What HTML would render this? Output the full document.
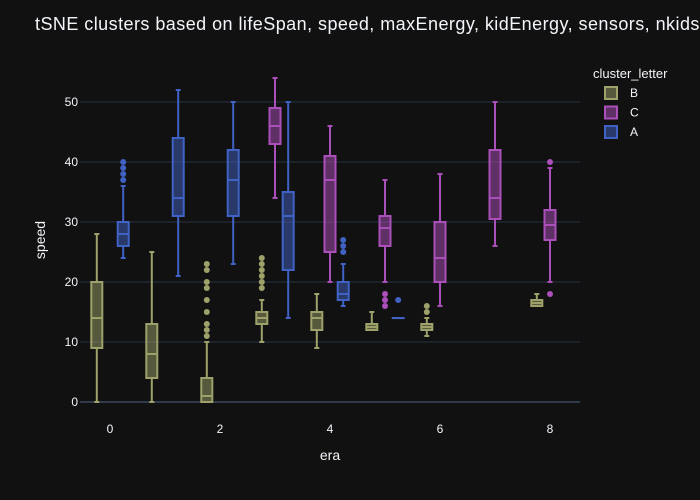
<!DOCTYPE html>
<html><head><meta charset="utf-8"><style>
body{margin:0;background:#111111;overflow:hidden;}
svg{display:block;font-family:"Liberation Sans",sans-serif;}
</style></head><body>
<svg id="chart" width="700" height="500">
<rect width="700" height="500" fill="#111111"/>
<text x="35" y="30" fill="#f2f5fa" font-size="18" letter-spacing="0.45">tSNE clusters based on lifeSpan, speed, maxEnergy, kidEnergy, sensors, nkids</text>
<g id="grid"></g>
<g id="marks"></g>
<g id="axes"></g>
<text x="330" y="460" fill="#f2f5fa" font-size="14" text-anchor="middle">era</text>
<text x="45" y="240" fill="#f2f5fa" font-size="14" text-anchor="middle" transform="rotate(-90 45 240)">speed</text>
<g id="legend">
<text x="593" y="78" fill="#f2f5fa" font-size="13">cluster_letter</text>
</g>
</svg>
<script>
const seriesNames=['B','C','A'];
const seriesStroke={B:'#9ea16a',C:'#ab4fbb',A:'#4062c4'};
const seriesOffset={B:-0.24,C:0,A:0.24};
const yTicks=[0,10,20,30,40,50];
const xTicks=[0,2,4,6,8];
// each box: era, [lowWhisker, q1, median, q3, highWhisker], outliers
const boxesB=[
 {era:0,s:[0,9,14,20,28],o:[]},
 {era:1,s:[0,4,8,13,25],o:[]},
 {era:2,s:[0,0,1,4,10],o:[11,12,13,15,17,19,20,22,23]},
 {era:3,s:[10,13,14,15,17],o:[19,20,21,22,23,24]},
 {era:4,s:[9,12,14,15,18],o:[]},
 {era:5,s:[12,12,12.5,13,15],o:[]},
 {era:6,s:[11,12,12.5,13,14],o:[15,16]},
 {era:8,s:[16,16,16.5,17,18],o:[]}
];
const boxesC=[
 {era:3,s:[34,43,46,49,54],o:[]},
 {era:4,s:[20,25,37,41,46],o:[]},
 {era:5,s:[20,26,29,31,37],o:[16,17,18]},
 {era:6,s:[16,20,24,30,38],o:[]},
 {era:7,s:[26,30.5,34,42,50],o:[]},
 {era:8,s:[20,27,29.5,32,39],o:[18,40]}
];
const boxesA=[
 {era:0,s:[24,26,28,30,36],o:[37,38,39,40]},
 {era:1,s:[21,31,34,44,52],o:[]},
 {era:2,s:[23,31,37,42,50],o:[]},
 {era:3,s:[14,22,31,35,50],o:[]},
 {era:4,s:[16,17,18,20,23],o:[25,26,27]},
 {era:5,s:[14,14,14,14,14],o:[17]}
];
const NS='http://www.w3.org/2000/svg';
const X=v=>110+55*v;
const Y=v=>402-6*v;
function mk(tag,attrs,parent){const e=document.createElementNS(NS,tag);for(const k in attrs)e.setAttribute(k,attrs[k]);parent.appendChild(e);return e;}
const grid=document.getElementById('grid'),axes=document.getElementById('axes'),marks=document.getElementById('marks');
yTicks.forEach(t=>{
 const l=mk('line',{x1:80,x2:580,y1:Y(t),y2:Y(t),stroke:t===0?'#2f3b4c':'#283442','stroke-width':t===0?2:1},grid);
 
 
 const tx=mk('text',{x:78,y:Y(t)+4,fill:'#f2f5fa','font-size':12,'text-anchor':'end'},axes);
 tx.textContent=t;
 
 
});
xTicks.forEach(t=>{
 const tx=mk('text',{x:X(t),y:433,fill:'#f2f5fa','font-size':12,'text-anchor':'middle'},axes);
 tx.textContent=t;
 
 
});
const all={B:boxesB,C:boxesC,A:boxesA};
const hw=6;
seriesNames.forEach(n=>{
 const col=seriesStroke[n];
 const g=mk('g',{},marks);
 
 
 all[n].forEach(b=>{
  const cx=X(b.era+seriesOffset[n]);const s=b.s;
  const bg=mk('g',{},g);
  
  
  mk('line',{x1:cx,x2:cx,y1:Y(s[0]),y2:Y(s[1]),stroke:col,'stroke-width':2},bg);
  mk('line',{x1:cx,x2:cx,y1:Y(s[3]),y2:Y(s[4]),stroke:col,'stroke-width':2},bg);
  mk('line',{x1:cx-2.5,x2:cx+2.5,y1:Y(s[0]),y2:Y(s[0]),stroke:col,'stroke-width':2},bg);
  mk('line',{x1:cx-2.5,x2:cx+2.5,y1:Y(s[4]),y2:Y(s[4]),stroke:col,'stroke-width':2},bg);
  mk('rect',{x:cx-hw+0.5,y:Y(s[3]),width:2*hw-1,height:Math.max(Y(s[1])-Y(s[3]),0.1),fill:col,'fill-opacity':0.5,stroke:col,'stroke-width':2},bg);
  mk('line',{x1:cx-hw+0.5,x2:cx+hw-0.5,y1:Y(s[2]),y2:Y(s[2]),stroke:col,'stroke-width':2},bg);
  b.o.forEach(v=>{
   const c=mk('circle',{cx:cx,cy:Y(v),r:3,fill:col},bg);
   
   
  });
 });
});
const leg=document.getElementById('legend');
seriesNames.forEach((n,i)=>{
 const y=93+19.5*i;const col=seriesStroke[n];
 const g=mk('g',{},leg);
 
 
 mk('rect',{x:605,y:y-6,width:12,height:12,fill:col,'fill-opacity':0.5,stroke:col,'stroke-width':2},g);
 const t=mk('text',{x:630,y:y+4,fill:'#f2f5fa','font-size':12},g);
 t.textContent=n;
});
</script>
</body></html>
